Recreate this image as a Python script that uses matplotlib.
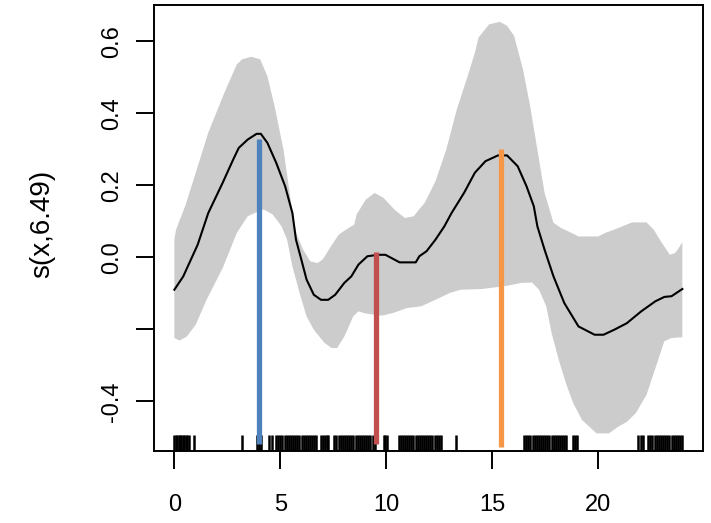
import matplotlib
matplotlib.use("Agg")
import matplotlib.pyplot as plt
import numpy as np

plt.rcParams['font.family'] = ['Liberation Sans', 'DejaVu Sans']

# fitted smooth
fit_x = [0.0, 0.42, 1.1, 1.6, 2.28, 2.78, 3.04, 3.46, 3.88, 4.08, 4.39, 4.81, 5.23, 5.57, 5.74, 5.99,
         6.24, 6.58, 6.92, 7.26, 7.59, 8.02, 8.35, 8.69, 9.11, 9.62, 9.96, 10.63, 11.39, 11.56, 11.9,
         12.32, 12.74, 13.08, 13.67, 14.18, 14.68, 15.27, 15.7, 16.2, 16.62, 16.96, 17.13, 17.47, 17.89,
         18.4, 19.07, 19.83, 20.25, 20.76, 21.35, 22.03, 22.7, 23.12, 23.46, 23.97]
fit_y = [-0.090, -0.053, 0.035, 0.123, 0.207, 0.272, 0.304, 0.327, 0.343, 0.343, 0.318, 0.262, 0.197,
         0.123, 0.049, -0.006, -0.062, -0.104, -0.118, -0.118, -0.104, -0.071, -0.053, -0.020, 0.003,
         0.007, 0.007, -0.014, -0.014, 0.003, 0.017, 0.049, 0.086, 0.123, 0.179, 0.235, 0.267, 0.283,
         0.283, 0.253, 0.197, 0.142, 0.086, 0.021, -0.053, -0.127, -0.192, -0.215, -0.215, -0.201,
         -0.183, -0.150, -0.122, -0.110, -0.108, -0.088]

# upper confidence limit
up_x = [0.0, 0.08, 0.51, 1.01, 1.6, 2.36, 2.95, 3.2, 3.63, 4.05, 4.39, 4.73, 5.15, 5.49, 5.74, 6.08,
        6.41, 6.75, 7.0, 7.34, 7.76, 8.1, 8.49, 8.6, 9.03, 9.45, 9.87, 10.38, 10.88, 11.3, 11.48, 11.81,
        12.32, 12.83, 13.33, 13.84, 14.18, 14.35, 14.85, 15.36, 15.7, 16.03, 16.45, 16.79, 17.05, 17.47,
        17.89, 18.23, 18.73, 19.07, 20.0, 20.34, 20.76, 21.6, 22.28, 22.62, 22.95, 23.38, 23.63, 23.8, 23.97]
up_y = [0.049, 0.077, 0.142, 0.235, 0.346, 0.457, 0.536, 0.550, 0.557, 0.550, 0.503, 0.420, 0.299,
        0.160, 0.068, 0.021, -0.011, -0.016, -0.006, 0.026, 0.063, 0.077, 0.091, 0.119, 0.160, 0.179,
        0.165, 0.133, 0.109, 0.114, 0.128, 0.151, 0.211, 0.299, 0.411, 0.503, 0.568, 0.610, 0.647,
        0.654, 0.643, 0.615, 0.522, 0.420, 0.327, 0.179, 0.096, 0.082, 0.068, 0.058, 0.058, 0.068,
        0.077, 0.097, 0.097, 0.077, 0.045, 0.007, 0.012, 0.026, 0.042]

# lower confidence limit
lo_x = [0.0, 0.25, 0.59, 1.01, 1.52, 2.28, 2.95, 3.46, 3.97, 4.22, 4.64, 5.06, 5.32, 5.57, 5.91, 6.24,
        6.58, 7.09, 7.43, 7.68, 8.02, 8.44, 8.69, 8.95, 9.37, 9.79, 10.3, 10.97, 11.65, 12.32, 13.0,
        13.5, 14.52, 15.19, 15.7, 16.37, 16.88, 17.21, 17.55, 17.8, 18.14, 18.48, 18.82, 19.24, 19.92,
        20.51, 20.93, 21.35, 21.77, 22.28, 22.62, 23.12, 23.46, 23.97]
lo_y = [-0.224, -0.231, -0.220, -0.187, -0.118, -0.030, 0.068, 0.114, 0.128, 0.133, 0.119, 0.086,
        0.049, -0.025, -0.099, -0.164, -0.201, -0.238, -0.252, -0.252, -0.220, -0.164, -0.150, -0.155,
        -0.159, -0.162, -0.155, -0.141, -0.136, -0.118, -0.099, -0.090, -0.088, -0.083, -0.079, -0.071,
        -0.070, -0.090, -0.136, -0.210, -0.285, -0.350, -0.405, -0.452, -0.489, -0.489, -0.471, -0.457,
        -0.433, -0.382, -0.322, -0.233, -0.224, -0.222]

# observed x values (rug)
rug_x = [0.00, 0.07, 0.13, 0.20, 0.27, 0.33, 0.40, 0.47, 0.53, 0.60, 0.70, 0.93,
         3.17, 3.90, 4.00, 4.10, 4.47, 4.60,
         4.80, 4.90, 5.00, 5.10, 5.20, 5.30, 5.40, 5.50, 5.60, 5.70, 5.80, 5.90, 6.00, 6.10, 6.20,
         6.30, 6.40, 6.50, 6.60, 6.70,
         6.90, 7.00, 7.10, 7.20, 7.26,
         7.55, 7.65, 7.75, 7.85, 7.95, 8.05, 8.15, 8.25, 8.35, 8.45, 8.55, 8.65, 8.75, 8.85, 8.95,
         9.05, 9.15, 9.25, 9.35, 9.45,
         9.87, 9.95, 10.04,
         10.58, 10.68, 10.78, 10.88, 10.98, 11.08, 11.18, 11.28, 11.38, 11.48, 11.58, 11.68, 11.78,
         11.88, 11.98, 12.08, 12.18, 12.28, 12.38, 12.48, 12.57,
         13.28,
         16.50, 16.60, 16.70, 16.80, 16.90, 17.00, 17.10, 17.20, 17.30, 17.40, 17.50, 17.60, 17.70,
         17.80, 17.90, 18.00, 18.10, 18.20,
         18.30, 18.40, 18.50, 18.80, 18.90, 19.00,
         21.90, 22.00, 22.10,
         22.36, 22.46, 22.56, 22.66, 22.76, 22.86, 22.96, 23.06, 23.16, 23.26, 23.36, 23.46, 23.56,
         23.66, 23.76, 23.86, 23.97]

# highlighted peaks
peak_x = [4.0, 9.5, 15.4]
peak_top = [0.329, 0.016, 0.300]
peak_bottom = [-0.518, -0.518, -0.526]
peak_colors = ['#4F81BD', '#C0504D', '#F79646']

yticks = [-0.4, -0.2, 0.0, 0.2, 0.4, 0.6]
ytick_labels = ['-0.4', '', '0.0', '0.2', '0.4', '0.6']
xticks = [0, 5, 10, 15, 20]
xtick_labels = ['0', '5', '10', '15', '20']

fig = plt.figure(figsize=(7.11, 5.23), dpi=100)
ax = fig.add_axes([0.2166, 0.1383, 0.9892 - 0.2166, 0.9899 - 0.1383])

poly_x = np.r_[np.array(up_x), np.array(lo_x)[::-1]]
poly_y = np.r_[np.array(up_y), np.array(lo_y)[::-1]]
ax.fill(poly_x, poly_y, color='#CCCCCC', lw=0, zorder=1)
ax.plot(fit_x, fit_y, color='black', lw=1.5, zorder=3)

ax.vlines(rug_x, 0, 0.035, transform=ax.get_xaxis_transform(), color='black', lw=1.8, zorder=2)

for px, pt, pb, pc in zip(peak_x, peak_top, peak_bottom, peak_colors):
    ax.vlines(px, pb, pt, color=pc, lw=3.8, zorder=4)

ax.set_xlim(-0.96, 24.96)
ax.set_ylim(-0.537, 0.700)
ax.set_xticks(xticks)
ax.set_xticklabels(xtick_labels)
ax.set_yticks(yticks)
ax.set_yticklabels(ytick_labels, rotation=90, va='center')
for s in ax.spines.values():
    s.set_linewidth(1.4)
ax.tick_params(axis='both', length=13, width=1.4, labelsize=17)
ax.tick_params(axis='x', pad=18)
ax.tick_params(axis='y', pad=9)
ax.set_ylabel('s(x,6.49)', fontsize=20)
ax.yaxis.set_label_coords(-0.18, 0.51)

fig.savefig('out.png', dpi=100)
